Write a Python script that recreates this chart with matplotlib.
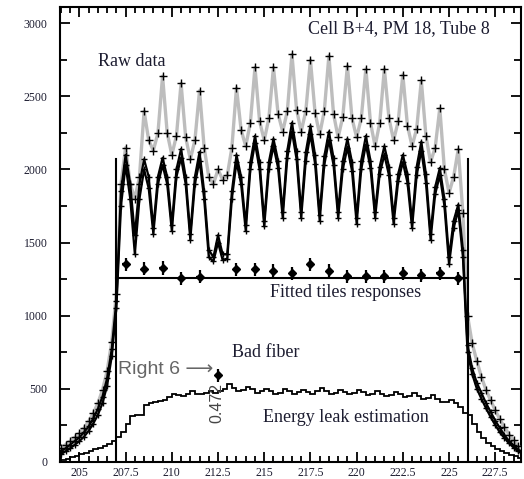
import matplotlib
matplotlib.use("Agg")
import matplotlib.pyplot as plt
from matplotlib.ticker import MultipleLocator
import numpy as np

plt.rcParams['font.family'] = ['Liberation Serif', 'DejaVu Serif']

# scan positions (cm), one reading every 0.25
scan_x = np.arange(204.0, 229.001, 0.25)

# raw data, three scans
raw_gray = [95, 115, 140, 165, 195, 230, 275, 330, 400, 490, 620, 820,
            1150, 1900, 2150, 1900,
            1800, 1950, 2400, 2200,
            2130, 2250, 2640, 2250,
            2100, 2230, 2590, 2220,
            2070, 2200, 2540, 2150,
            1950, 1900, 2000, 1930,
            1960, 2150, 2560, 2270,
            2160, 2320, 2700, 2330,
            2200, 2350, 2700, 2380,
            2260, 2400, 2790, 2410,
            2260, 2400, 2750, 2390,
            2240, 2400, 2780, 2380,
            2220, 2360, 2710, 2350,
            2220, 2350, 2690, 2320,
            2160, 2320, 2690, 2350,
            2200, 2330, 2650, 2300,
            2160, 2280, 2610, 2230,
            2050, 2150, 2420, 2000,
            1840, 1950, 2140, 1700,
            1000,
            810, 690, 580, 490, 420, 350, 290, 235, 185, 145, 105, 80]

raw_black1 = [70, 90, 115, 140, 165, 200, 240, 295, 360, 445, 570, 770,
              1100, 1850, 2100, 1900,
              1550, 1900, 2070, 1950,
              1600, 1950, 2080, 1950,
              1620, 2000, 2140, 1950,
              1560, 1950, 2120, 1850,
              1450, 1400, 1550, 1420,
              1420, 1850, 2100, 1950,
              1620, 2050, 2230, 2050,
              1650, 2050, 2210, 2060,
              1710, 2130, 2320, 2130,
              1710, 2120, 2300, 2100,
              1690, 2090, 2260, 2080,
              1710, 2060, 2210, 2050,
              1670, 2060, 2230, 2060,
              1710, 2020, 2160, 2020,
              1670, 1970, 2100, 1970,
              1640, 2020, 2190, 1970,
              1560, 1880, 2010, 1800,
              1400, 1650, 1760, 1450,
              800,
              640, 540, 470, 400, 340, 280, 230, 180, 140, 110, 80, 60]

raw_black2 = [50, 70, 90, 115, 140, 170, 210, 260, 320, 400, 520, 720,
              1050, 1750, 2030, 1800,
              1420, 1800, 2000, 1870,
              1560, 1900, 2030, 1900,
              1580, 1950, 2080, 1900,
              1520, 1900, 2060, 1800,
              1400, 1370, 1500, 1380,
              1390, 1800, 2050, 1900,
              1580, 2000, 2180, 2000,
              1610, 2000, 2160, 2010,
              1670, 2080, 2260, 2070,
              1670, 2060, 2240, 2040,
              1650, 2030, 2200, 2030,
              1670, 2000, 2150, 1990,
              1630, 2000, 2170, 2010,
              1670, 1970, 2100, 1960,
              1630, 1920, 2050, 1910,
              1600, 1960, 2130, 1910,
              1520, 1830, 1960, 1750,
              1350, 1600, 1720, 1400,
              750,
              600, 500, 430, 365, 305, 250, 200, 160, 125, 95, 70, 50]

# energy leak estimation, histogram with 0.25 bins from 204 to 229
leak_edges = np.arange(204.0, 229.001, 0.25)
leak = [10, 20, 30, 40, 50, 60, 75, 85, 95, 105, 120, 140,
        165, 200, 255, 315, 320, 320, 390, 400,
        410, 415, 420, 440, 460, 455, 450, 465,
        480, 465, 460, 470, 485, 470, 480, 500,
        530, 505, 480, 490, 510, 495, 470, 480,
        500, 480, 465, 470, 495, 480, 465, 475,
        490, 475, 465, 480, 505, 485, 465, 470,
        490, 475, 460, 470, 490, 475, 455, 460,
        480, 465, 450, 455, 475, 460, 440, 450,
        470, 450, 430, 435, 455, 430, 410, 405,
        420, 400, 370, 335, 320, 260, 200, 160,
        130, 105, 85, 70, 55, 45, 35, 25]

# fitted tile responses
tile_x = [207.5, 208.5, 209.5, 210.5, 211.5, 213.5, 214.5, 215.5, 216.5,
          217.5, 218.5, 219.5, 220.5, 221.5, 222.5, 223.5, 224.5, 225.5]
tile_y = [1350, 1320, 1325, 1255, 1265, 1318, 1318, 1305, 1290,
          1352, 1305, 1270, 1270, 1270, 1290, 1275, 1290, 1255]
fit_level = 1260
bad_x, bad_y = 212.5, 590
cell_edges = [207.0, 226.0]
edge_height = 2070

ink = '#1c1c30'

fig = plt.figure(figsize=(5.24, 4.79), dpi=100)
ax = fig.add_axes([0.1145, 0.0365, 0.8800, 0.9480])

ax.plot(scan_x, raw_gray, color='#bdbdbd', lw=2.4, marker='+', ms=6, mec='black', mew=1.0, zorder=3)
ax.plot(scan_x, raw_black1, color='black', lw=1.6, marker='+', ms=5, mec='black', mew=1.0, zorder=4)
ax.plot(scan_x, raw_black2, color='black', lw=1.6, marker='+', ms=5, mec='black', mew=1.0, zorder=4)

ax.stairs(leak, leak_edges, color='black', lw=1.3, zorder=3)

for xe in cell_edges:
    ax.plot([xe, xe], [0, edge_height], color='black', lw=1.5, zorder=5)
ax.plot(cell_edges, [fit_level, fit_level], color='black', lw=1.5, zorder=5)

ax.errorbar(tile_x, tile_y, yerr=45, xerr=0.18, fmt='D', ms=4.5, color='black', elinewidth=1.6, capsize=0, zorder=6)
ax.errorbar([bad_x], [bad_y], yerr=45, xerr=0.18, fmt='D', ms=4.5, color='black', elinewidth=1.6, capsize=0, zorder=6)

# labels
ax.text(227.2, 2963, "Cell B+4, PM 18, Tube 8", ha='right', va='center', fontsize=13, color=ink)
ax.text(206.0, 2737, "Raw data", ha='left', va='center', fontsize=13, color=ink)
ax.text(215.3, 1155, "Fitted tiles responses", ha='left', va='center', fontsize=13, color=ink)
ax.text(213.25, 744, "Bad fiber", ha='left', va='center', fontsize=13, color=ink)
ax.text(214.93, 299, "Energy leak estimation", ha='left', va='center', fontsize=13, color=ink)
ax.text(207.08, 628, "Right 6 \u27f6", ha='left', va='center', fontsize=14, color='#666666',
        family=['Liberation Sans', 'DejaVu Sans'])
ax.text(212.44, 402, "0.472", ha='center', va='center', fontsize=11.5, rotation=90, color='#444444',
        family=['Liberation Sans', 'DejaVu Sans'])

ax.set_xlim(203.95, 228.9)
ax.set_ylim(0, 3110)
ax.xaxis.set_major_locator(MultipleLocator(2.5))
ax.xaxis.set_minor_locator(MultipleLocator(0.5))
ax.yaxis.set_major_locator(MultipleLocator(500))
ax.yaxis.set_minor_locator(MultipleLocator(250))
ax.xaxis.set_major_formatter(plt.FuncFormatter(lambda v, p: f"{v:g}"))
ax.tick_params(which='both', direction='in', top=True, right=True, labelsize=8.5, labelcolor=ink, width=1.3)
ax.tick_params(axis='x', which='major', length=7, pad=4)
ax.tick_params(axis='x', which='minor', length=4)
ax.tick_params(axis='y', which='major', length=7, pad=9)
ax.tick_params(axis='y', which='minor', length=5)
for s in ax.spines.values():
    s.set_linewidth(1.5)

fig.savefig("out.png", dpi=100)
